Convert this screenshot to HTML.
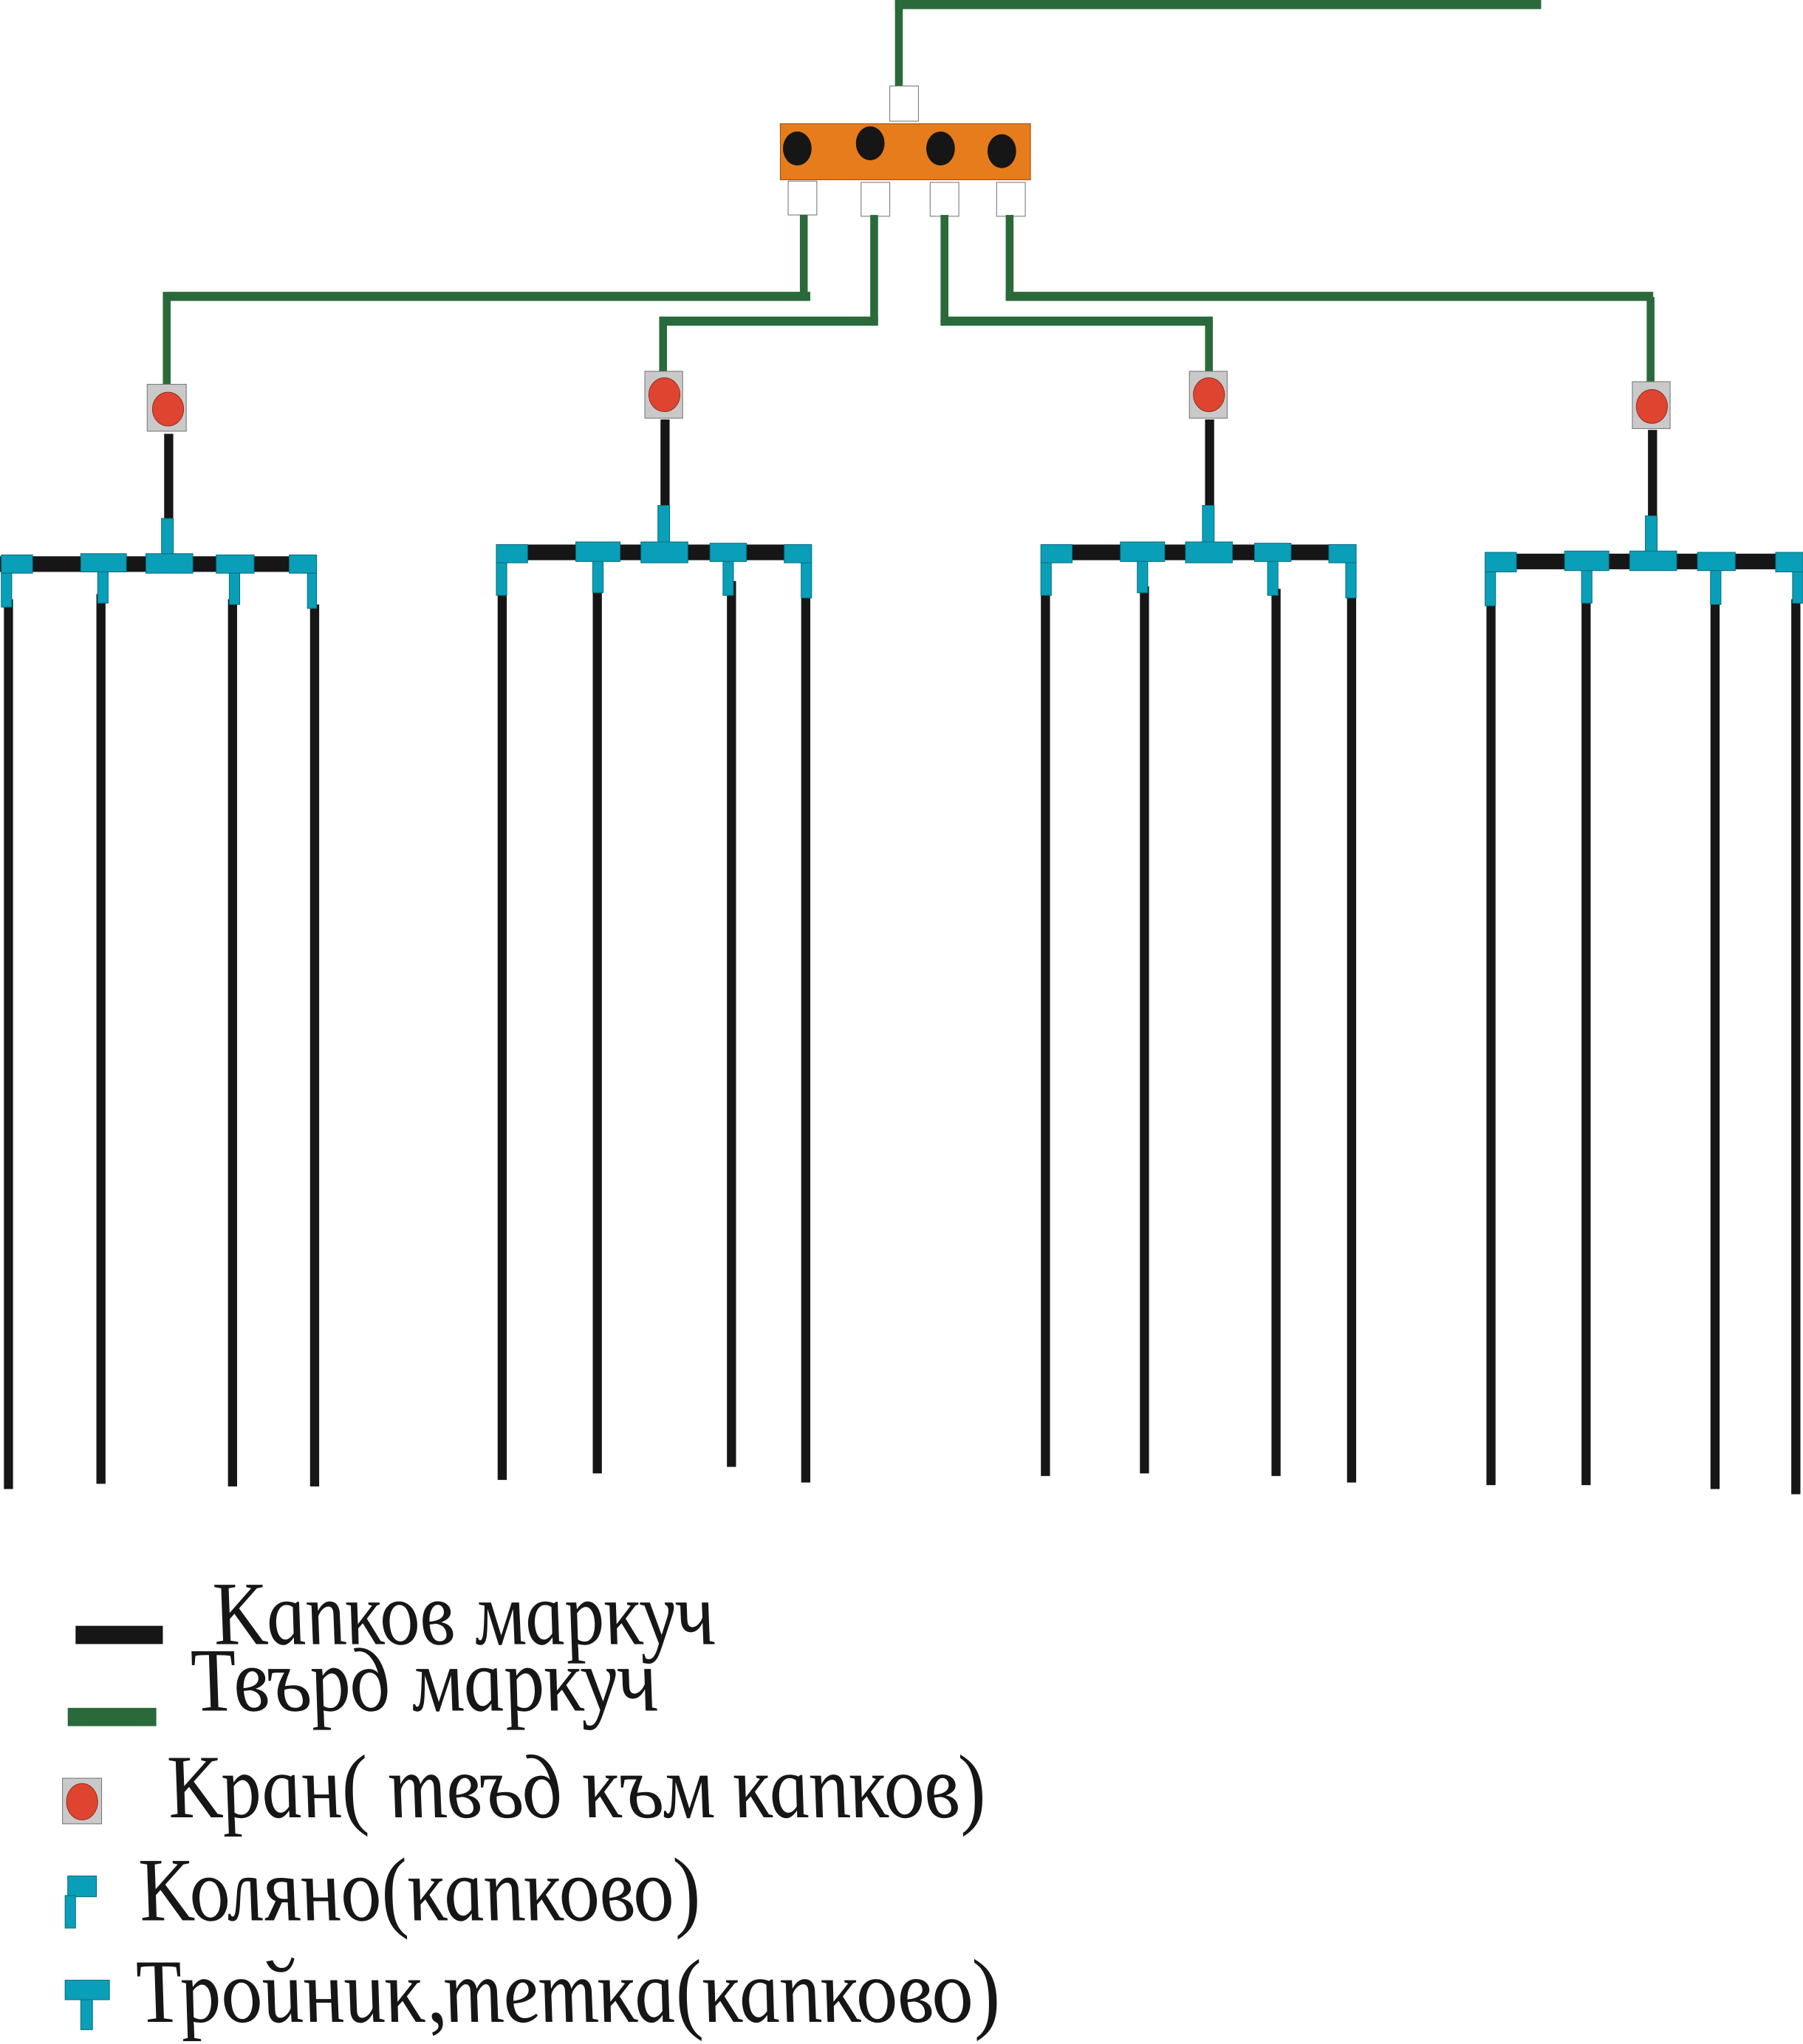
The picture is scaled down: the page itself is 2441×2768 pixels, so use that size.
<!DOCTYPE html>
<html><head><meta charset="utf-8"><style>html,body{margin:0;padding:0;background:#fff}svg{display:block}</style></head>
<body>
<svg width="2441" height="2768" viewBox="0 0 1384 1569" preserveAspectRatio="none" xmlns="http://www.w3.org/2000/svg">
<defs>
<style>
.g{fill:#2a6a3a}.k{fill:#161616}.c{fill:#0a9fb8;stroke:#0b6f80;stroke-width:0.6}
.w{fill:#fff;stroke:#777;stroke-width:0.6}.v{fill:#c9c9c9;stroke:#777;stroke-width:0.6}.r{fill:#df4430;stroke:#8a2a1a;stroke-width:0.5}
text{font-family:"Liberation Serif",serif;font-style:italic;font-size:58px;fill:#161616}
</style>
</defs>
<rect class="g" x="687" y="0" width="496" height="7"/>
<rect class="g" x="687" y="0" width="6" height="67"/>
<rect class="w" x="683" y="66" width="22" height="27"/>
<rect x="599" y="95" width="192" height="43" fill="#e77c1c" stroke="#a04e10" stroke-width="0.6"/>
<ellipse cx="612" cy="114" rx="11" ry="13" class="k"/>
<ellipse cx="668" cy="110" rx="11" ry="13" class="k"/>
<ellipse cx="722" cy="114" rx="11" ry="13" class="k"/>
<ellipse cx="769" cy="116" rx="11" ry="13" class="k"/>
<rect class="w" x="605" y="139" width="22" height="26"/>
<rect class="w" x="661" y="140" width="22" height="26"/>
<rect class="w" x="714" y="140" width="22" height="26"/>
<rect class="w" x="765" y="140" width="22" height="26"/>
<rect class="g" x="614" y="165" width="6" height="66"/>
<rect class="g" x="125" y="224" width="497" height="7"/>
<rect class="g" x="125" y="228" width="6" height="68"/>
<rect class="g" x="668" y="165" width="6" height="85"/>
<rect class="g" x="506" y="243" width="168" height="7"/>
<rect class="g" x="506" y="246" width="6" height="40"/>
<rect class="g" x="722" y="165" width="6" height="85"/>
<rect class="g" x="722" y="243" width="209" height="7"/>
<rect class="g" x="925" y="246" width="6" height="40"/>
<rect class="g" x="772" y="165" width="6" height="65"/>
<rect class="g" x="772" y="224" width="497" height="7"/>
<rect class="g" x="1264" y="228" width="6" height="66"/>

<rect class="v" x="113" y="295" width="30" height="36"/><ellipse class="r" cx="129" cy="314" rx="12" ry="13"/>
<rect class="v" x="495" y="285" width="29" height="36"/><ellipse class="r" cx="510" cy="303" rx="12" ry="13"/>
<rect class="v" x="913" y="285" width="29" height="36"/><ellipse class="r" cx="928" cy="303" rx="12" ry="13"/>
<rect class="v" x="1253" y="293" width="29" height="36"/><ellipse class="r" cx="1268" cy="312" rx="12" ry="13"/>

<rect class="k" x="126" y="333" width="7" height="66"/>
<rect class="k" x="0" y="427" width="242" height="12"/>
<rect class="k" x="3" y="460" width="7" height="683"/>
<rect class="k" x="74" y="456" width="7" height="683"/>
<rect class="k" x="175" y="460" width="7" height="681"/>
<rect class="k" x="238" y="464" width="7" height="677"/>
<rect class="c" x="124" y="398" width="9" height="28"/>
<rect class="c" x="112" y="425" width="36" height="15"/>
<rect class="c" x="1" y="426" width="24" height="14"/>
<rect class="c" x="1" y="440" width="8" height="26"/>
<rect class="c" x="62" y="425" width="35" height="14"/>
<rect class="c" x="75" y="439" width="8" height="24"/>
<rect class="c" x="166" y="426" width="29" height="14"/>
<rect class="c" x="176" y="440" width="8" height="24"/>
<rect class="c" x="222" y="426" width="21" height="14"/>
<rect class="c" x="236" y="440" width="7" height="27"/>

<rect class="k" x="507" y="322" width="7" height="67"/>
<rect class="k" x="381" y="418" width="242" height="12"/>
<rect class="k" x="382" y="452" width="7" height="684"/>
<rect class="k" x="455" y="448" width="7" height="683"/>
<rect class="k" x="558" y="446" width="7" height="680"/>
<rect class="k" x="615" y="452" width="7" height="686"/>
<rect class="c" x="505" y="388" width="9" height="29"/>
<rect class="c" x="492" y="416" width="36" height="16"/>
<rect class="c" x="381" y="418" width="24" height="14"/>
<rect class="c" x="381" y="432" width="8" height="25"/>
<rect class="c" x="442" y="416" width="34" height="15"/>
<rect class="c" x="455" y="431" width="8" height="24"/>
<rect class="c" x="545" y="417" width="28" height="14"/>
<rect class="c" x="555" y="431" width="8" height="26"/>
<rect class="c" x="602" y="418" width="21" height="14"/>
<rect class="c" x="615" y="432" width="8" height="27"/>

<rect class="k" x="925" y="322" width="7" height="67"/>
<rect class="k" x="799" y="418" width="241" height="12"/>
<rect class="k" x="799" y="452" width="7" height="681"/>
<rect class="k" x="875" y="450" width="7" height="681"/>
<rect class="k" x="976" y="452" width="7" height="681"/>
<rect class="k" x="1034" y="450" width="7" height="688"/>
<rect class="c" x="923" y="388" width="9" height="29"/>
<rect class="c" x="910" y="416" width="36" height="16"/>
<rect class="c" x="799" y="418" width="24" height="14"/>
<rect class="c" x="799" y="432" width="8" height="25"/>
<rect class="c" x="860" y="416" width="34" height="15"/>
<rect class="c" x="873" y="431" width="8" height="24"/>
<rect class="c" x="963" y="417" width="28" height="14"/>
<rect class="c" x="973" y="431" width="8" height="26"/>
<rect class="c" x="1020" y="418" width="21" height="14"/>
<rect class="c" x="1033" y="432" width="8" height="27"/>

<rect class="k" x="1265" y="330" width="7" height="67"/>
<rect class="k" x="1140" y="425" width="244" height="12"/>
<rect class="k" x="1141" y="458" width="7" height="682"/>
<rect class="k" x="1214" y="454" width="7" height="686"/>
<rect class="k" x="1313" y="456" width="7" height="687"/>
<rect class="k" x="1375" y="460" width="7" height="687"/>
<rect class="c" x="1263" y="396" width="9" height="28"/>
<rect class="c" x="1251" y="423" width="36" height="15"/>
<rect class="c" x="1140" y="424" width="24" height="15"/>
<rect class="c" x="1140" y="439" width="8" height="26"/>
<rect class="c" x="1201" y="423" width="34" height="15"/>
<rect class="c" x="1214" y="438" width="8" height="25"/>
<rect class="c" x="1303" y="424" width="29" height="14"/>
<rect class="c" x="1313" y="438" width="8" height="26"/>
<rect class="c" x="1363" y="424" width="21" height="15"/>
<rect class="c" x="1376" y="439" width="8" height="24"/>

<rect class="k" x="58" y="1248" width="67" height="14"/>
<rect class="g" x="52" y="1311" width="68" height="14"/>
<rect class="v" x="48" y="1365" width="30" height="35"/><ellipse class="r" cx="63" cy="1383" rx="12" ry="14"/>
<rect class="c" x="52" y="1440" width="22" height="16"/>
<rect class="c" x="50" y="1455" width="8" height="25"/>
<rect class="c" x="50" y="1520" width="34" height="15"/>
<rect class="c" x="62" y="1535" width="9" height="23"/>

<g transform="translate(167,1262) scale(1,1.2) skewX(13)"><text x="0" y="0" textLength="385" lengthAdjust="spacingAndGlyphs">Капков маркуч</text></g>
<g transform="translate(150,1313) scale(1,1.2) skewX(13)"><text x="0" y="0" textLength="358" lengthAdjust="spacingAndGlyphs">Твърд маркуч</text></g>
<g transform="translate(132,1395) scale(1,1.2) skewX(13)"><text x="0" y="0" textLength="628" lengthAdjust="spacingAndGlyphs">Кран( твъд към капков)</text></g>
<g transform="translate(110,1474) scale(1,1.2) skewX(13)"><text x="0" y="0" textLength="431" lengthAdjust="spacingAndGlyphs">Коляно(капково)</text></g>
<g transform="translate(108,1552) scale(1,1.2) skewX(13)"><text x="0" y="0" textLength="663" lengthAdjust="spacingAndGlyphs">Тройник,тетка(капково)</text></g>
</svg>
</body></html>
